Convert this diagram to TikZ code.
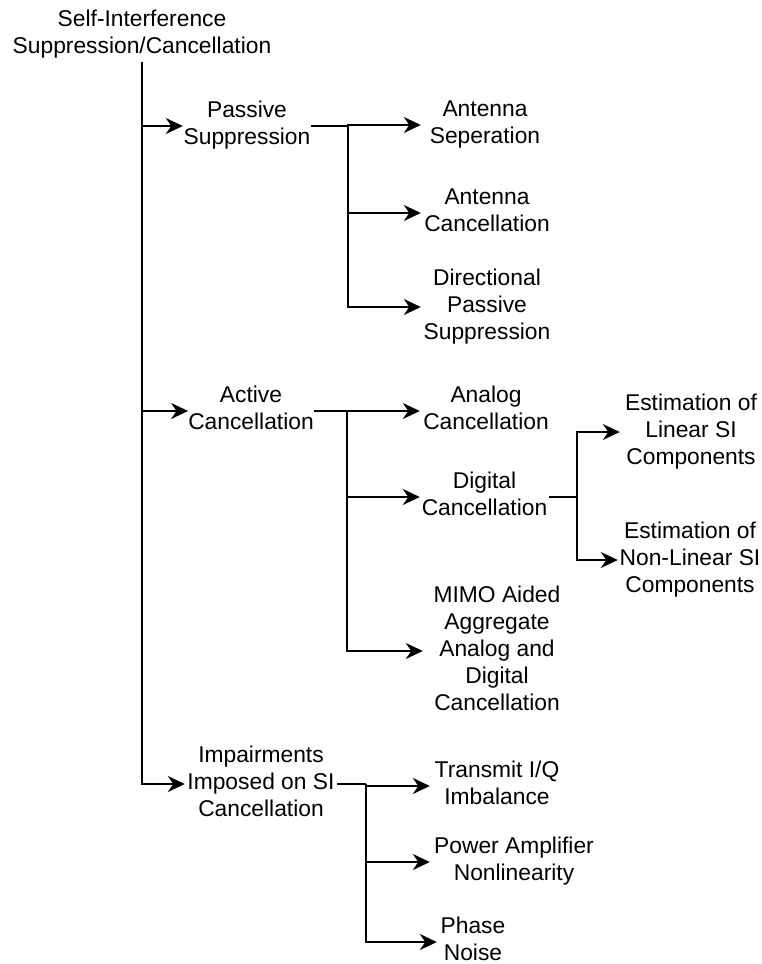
\documentclass[tikz,border=0pt]{standalone}
\usepackage{fontspec}
\setmainfont{Liberation Sans}
\usetikzlibrary{arrows.meta}
\tikzset{
  lbl/.style={align=center, inner sep=0pt, font=\fontsize{22.8}{27}\selectfont},
  link/.style={line width=2pt},
  arr/.style={link, -{Stealth[length=17pt,width=16pt,inset=5.5pt]}},
}
\begin{document}
\begin{tikzpicture}[x=1pt,y=-1pt]
\useasboundingbox (0,0) rectangle (762,964);
% level 0
\node[lbl] (root) at (142,35) {\strut Self-Interference\\\strut Suppression/Cancellation};
% level 1
\node[lbl, minimum width=128pt] (pas) at (247,126) {\strut Passive\\\strut Suppression};
\node[lbl, minimum width=124pt] (act) at (251,411) {\strut Active\\\strut Cancellation};
\node[lbl, minimum width=152pt] (imp) at (261,784) {\strut Impairments\\\strut Imposed on SI\\\strut Cancellation};
% level 2
\node[lbl, minimum width=128pt] (sep) at (485,125) {\strut Antenna\\\strut Seperation};
\node[lbl, minimum width=132pt] (acan) at (487,213) {\strut Antenna\\\strut Cancellation};
\node[lbl, minimum width=132pt] (dir) at (487,307) {\strut Directional\\\strut Passive\\\strut Suppression};
\node[lbl, minimum width=132pt] (ana) at (486,411) {\strut Analog\\\strut Cancellation};
\node[lbl, minimum width=129pt] (dig) at (484.5,497) {\strut Digital\\\strut Cancellation};
\node[lbl, minimum width=148pt] (mimo) at (497,651) {\strut MIMO Aided\\\strut Aggregate\\\strut Analog and\\\strut Digital\\\strut Cancellation};
\node[lbl, minimum width=134pt] (iq) at (497,786) {\strut Transmit I/Q\\\strut Imbalance};
\node[lbl, minimum width=168pt] (pa) at (514,862) {\strut Power Amplifier\\\strut Nonlinearity};
\node[lbl, minimum width=72pt] (pn) at (473,942) {\strut Phase\\\strut Noise};
% level 3
\node[lbl, minimum width=142pt] (lin) at (691,432) {\strut Estimation of\\\strut Linear SI\\\strut Components};
\node[lbl, minimum width=144pt] (nlin) at (690,560) {\strut Estimation of\\\strut Non-Linear SI\\\strut Components};
% junctions
\coordinate (pj) at (348,126);
\coordinate (aj) at (347,411);
\coordinate (dj) at (577,497);
\coordinate (ij) at (366,784);
% connectors
\draw[arr] (root.south) |- (pas.west);
\draw[arr] (root.south) |- (act.west);
\draw[arr] (root.south) |- (imp.west);
\draw[link] (pas.east) -- (pj);
\draw[arr] (pj) |- (sep.west);
\draw[arr] (pj) |- (acan.west);
\draw[arr] (pj) |- (dir.west);
\draw[link] (act.east) -- (aj);
\draw[arr] (aj) |- (ana.west);
\draw[arr] (aj) |- (dig.west);
\draw[arr] (aj) |- (mimo.west);
\draw[link] (dig.east) -- (dj);
\draw[arr] (dj) |- (lin.west);
\draw[arr] (dj) |- (nlin.west);
\draw[link] (imp.east) -- (ij);
\draw[arr] (ij) |- (iq.west);
\draw[arr] (ij) |- (pa.west);
\draw[arr] (ij) |- (pn.west);
\end{tikzpicture}
\end{document}
